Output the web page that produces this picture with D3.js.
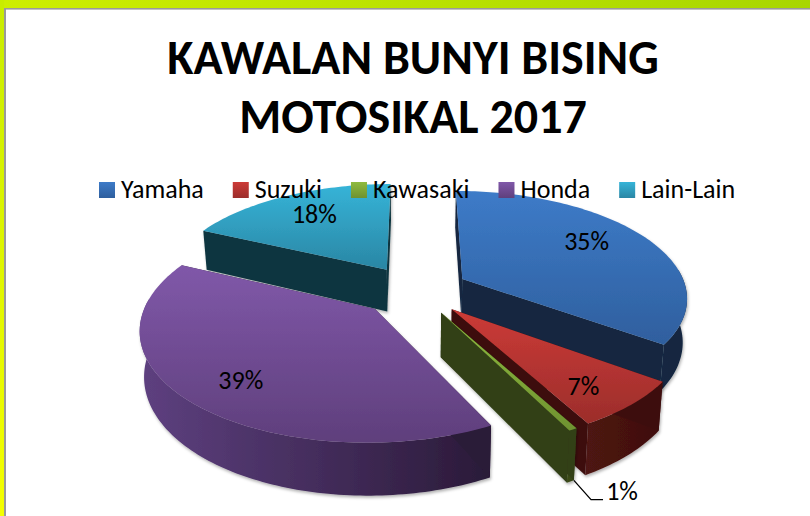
<!DOCTYPE html>
<html><head><meta charset="utf-8">
<script src="https://cdn.jsdelivr.net/npm/d3@7/dist/d3.min.js"></script>
<style>html,body{margin:0;padding:0;background:#fff;overflow:hidden}svg{display:block}text{font-family:Carlito,Lato,"Open Sans",sans-serif}</style>
</head><body><svg id="c" width="810" height="516"></svg>
<script>
const titleLines = ["KAWALAN BUNYI BISING", "MOTOSIKAL 2017"];
const categories = ["Yamaha", "Suzuki", "Kawasaki", "Honda", "Lain-Lain"];
const values = [35, 7, 0.5, 39.4, 18.1];
const percentLabels = ["35%", "7%", "1%", "39%", "18%"];
const topLight = ["#3d7bc8", "#cc3b37", "#8fbb3f", "#8058a9", "#36b4d8"];
const topDark = ["#2f5f9e", "#9c2d2b", "#6f9230", "#5f3f7c", "#2a86a4"];
const wallLight = ["#16304f", "#4e1412", "#3c4c1a", "#5e4080", "#153f4d"];
const wallDark = ["#122640", "#3e0f0e", "#323f15", "#2a1a38", "#113640"];
const drawOrder = [4, 0, 3, 1, 2];
const labelShift = [-6, 2.5, 2.5, -2.5, 1];
const labelRadius = [0.73, 0.79, 1.385, 0.77, 0.72];
const explodeBy = [54, 54, 54, 56, 54];

const cx = 415, cy = 290, R = 229, xScale = 0.98, tilt = 0.46, persp = 0.0007, depth = 43, shrink = 0.984;
const rad = d => d * Math.PI / 180;
const svg = d3.select("#c");
const defs = svg.append("defs");

const pie = d3.pie().sort(null).value(d => d)(values);
const slices = pie.map((p, i) => {
  const mid = (p.startAngle + p.endAngle) / 2;
  return {i, a0: p.startAngle, a1: p.endAngle, mid,
    ox: Math.sin(mid) * explodeBy[i], oz: Math.cos(mid) * explodeBy[i]};
});
const proj = (X, Z) => {
  const D = 1 + persp * Z;
  return [cx + X / D, cy - tilt * Z / D];
};
const topPt = (s, a, r) => proj(s.ox + Math.sin(a) * R * xScale * r, s.oz + Math.cos(a) * R * r);
const botPt = (s, a, r) => {
  const X = s.ox + Math.sin(a) * R * xScale * r, Z = s.oz + Math.cos(a) * R * r;
  const [x, y] = proj(X, Z);
  return [cx + (x - cx) * shrink, y + depth / (1 + persp * Z)];
};
const line = d3.line();
const arcAngles = s => {
  const n = Math.max(2, Math.ceil((s.a1 - s.a0) / 0.02));
  return d3.range(n + 1).map(k => s.a0 + (s.a1 - s.a0) * k / n);
};

// page frame
const band = defs.append("linearGradient").attr("id", "band");
band.append("stop").attr("offset", 0).attr("stop-color", "#cdee00");
band.append("stop").attr("offset", 1).attr("stop-color", "#a8d600");
const strip = defs.append("linearGradient").attr("id", "strip").attr("x2", 0).attr("y2", 1);
strip.append("stop").attr("offset", 0).attr("stop-color", "#c8ec00");
strip.append("stop").attr("offset", 1).attr("stop-color", "#f4ff00");
svg.append("rect").attr("width", 810).attr("height", 8).attr("fill", "url(#band)");
svg.append("rect").attr("width", 4).attr("height", 516).attr("fill", "url(#strip)");
svg.append("rect").attr("x", 4).attr("y", 8).attr("width", 806).attr("height", 1.6).attr("fill", "#9a9a9a");
svg.append("rect").attr("x", 4).attr("y", 8).attr("width", 2).attr("height", 508).attr("fill", "#9a9a9a");

defs.append("filter").attr("id", "shadow").attr("x", "-10%").attr("y", "-10%").attr("width", "120%").attr("height", "120%")
  .append("feDropShadow").attr("dx", 1).attr("dy", 2).attr("stdDeviation", 1.6)
  .attr("flood-color", "#000").attr("flood-opacity", 0.3);

// slices, back to front
const pieG = svg.append("g");
drawOrder.forEach(i => {
  const s = slices[i];
  const ang = arcAngles(s);
  const topPts = ang.map(a => topPt(s, a, 1));
  const botPts = ang.map(a => botPt(s, a, 1));
  const apexT = topPt(s, 0, 0), apexB = botPt(s, 0, 0);
  const ys = topPts.map(p => p[1]).concat(apexT[1]);
  const xs = botPts.map(p => p[0]).concat(topPts.map(p => p[0]));
  const gt = defs.append("linearGradient").attr("id", "t" + i).attr("gradientUnits", "userSpaceOnUse")
    .attr("x1", 0).attr("x2", 0).attr("y1", d3.min(ys)).attr("y2", d3.max(ys));
  gt.append("stop").attr("offset", 0).attr("stop-color", topLight[i]);
  gt.append("stop").attr("offset", 1).attr("stop-color", topDark[i]);
  const gw = defs.append("linearGradient").attr("id", "w" + i).attr("gradientUnits", "userSpaceOnUse")
    .attr("x1", d3.min(xs)).attr("x2", d3.max(xs)).attr("y1", 0).attr("y2", 0);
  gw.append("stop").attr("offset", 0).attr("stop-color", wallLight[i]);
  gw.append("stop").attr("offset", 1).attr("stop-color", wallDark[i]);

  const g = pieG.append("g").attr("filter", "url(#shadow)");
  // outer wall: only the part that faces the viewer
  const front = ang.filter(a => Math.cos(a) < 0.1);
  if (front.length > 1) {
    const ft = front.map(a => topPt(s, a, 1)), fb = front.map(a => botPt(s, a, 1));
    g.append("path").attr("d", line(ft.concat(fb.reverse())) + "Z").attr("fill", `url(#w${i})`);
  }
  // radial walls
  [[topPts[0], botPts[0]], [topPts[topPts.length - 1], botPts[botPts.length - 1]]].forEach(([t, b]) => {
    g.append("path").attr("d", line([apexT, t, b, apexB]) + "Z").attr("fill", wallDark[i]);
  });
  // top face
  g.append("path").attr("d", line([apexT].concat(topPts)) + "Z").attr("fill", `url(#t${i})`);
});

// percent labels
slices.forEach(s => {
  const i = s.i;
  const [x, y] = topPt(s, s.mid + rad(labelShift[i]), labelRadius[i]);
  svg.append("text").attr("x", x).attr("y", y).attr("text-anchor", "middle").attr("dy", "0.35em")
    .attr("font-size", 26).attr("fill", "#000").text(percentLabels[i]);
  if (labelRadius[i] > 1) {
    const start = botPt(s, s.a0, 1);
    svg.append("path").attr("fill", "none").attr("stroke", "#000").attr("stroke-width", 1.3)
      .attr("d", line([start, [x - 31, y + 9], [x - 19, y + 9]]));
  }
});

// title
titleLines.forEach((t, k) => {
  svg.append("text").attr("x", 413).attr("y", 74 + k * 59).attr("text-anchor", "middle")
    .attr("font-size", 48).attr("font-weight", 700).attr("fill", "#000").text(t);
});

// legend
let lx = 99;
categories.forEach((c, i) => {
  const g = defs.append("linearGradient").attr("id", "l" + i).attr("x2", 0).attr("y2", 1);
  g.append("stop").attr("offset", 0).attr("stop-color", topLight[i]);
  g.append("stop").attr("offset", 1).attr("stop-color", topDark[i]);
  svg.append("rect").attr("x", lx).attr("y", 182).attr("width", 16).attr("height", 16).attr("fill", `url(#l${i})`);
  const t = svg.append("text").attr("x", lx + 22).attr("y", 198).attr("font-size", 26).attr("fill", "#000").text(c);
  lx += 22 + t.node().getComputedTextLength() + 29;
});
</script></body></html>
